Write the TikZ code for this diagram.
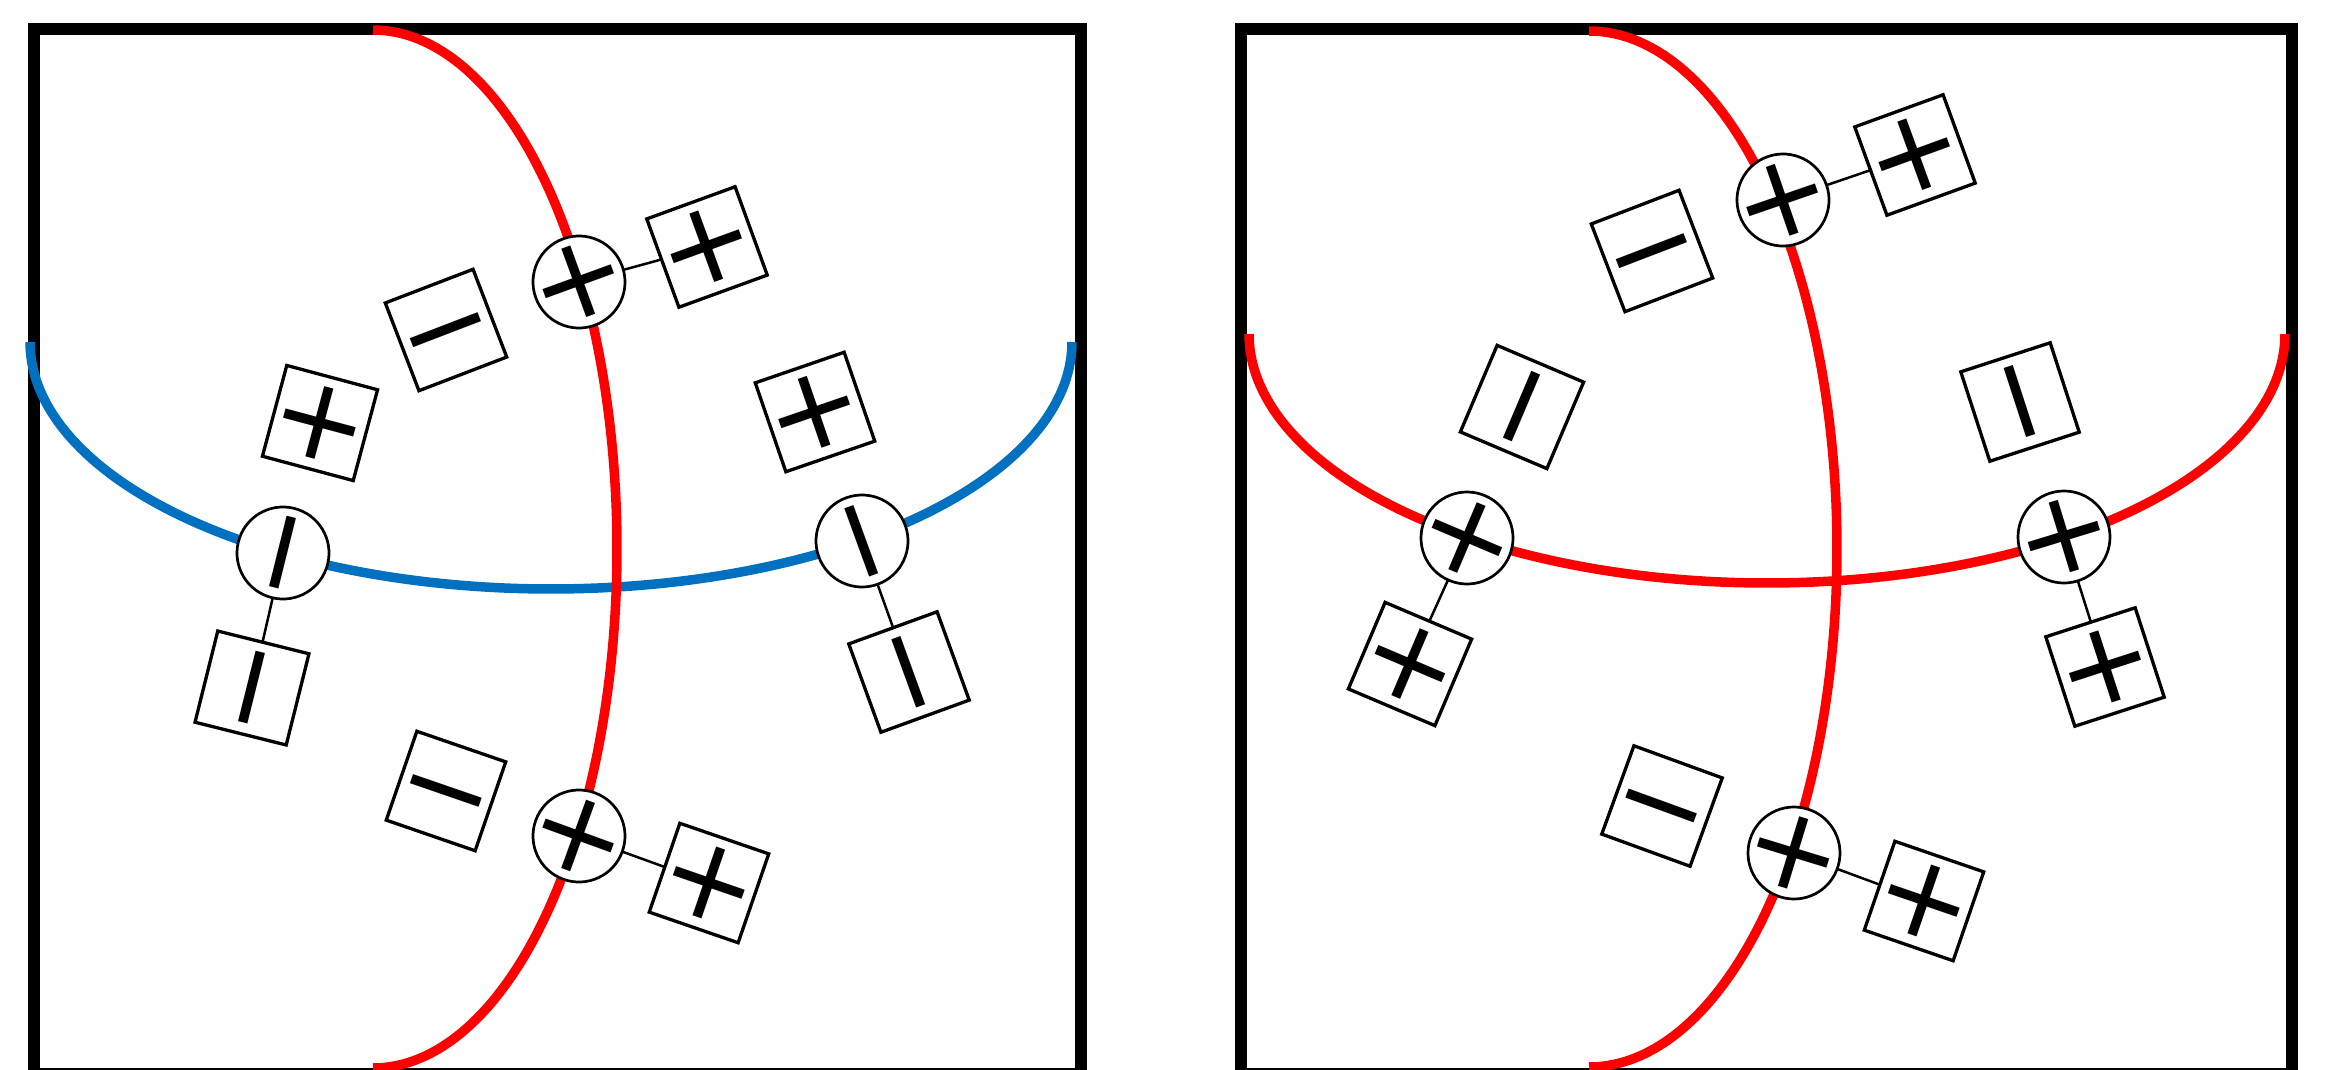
\documentclass[tikz,border=0pt]{standalone}
\usepackage{fontspec}
\usepackage{graphicx}
\newfontfamily\signfont{DejaVu Sans}
\definecolor{sigred}{RGB}{255,0,0}
\definecolor{sigblue}{RGB}{0,112,192}
\newcommand\sgc[1]{\makebox[0pt][c]{\smash{\raisebox{-0.5\height}{#1}}}}
\newcommand\sgplus{\sgc{+}}
\newcommand\sgminus{\sgc{\vphantom{+}−}}
\newcommand\sgbar{\rotatebox{90}{\sgc{\vphantom{+}−}}}
\begin{document}
\begin{tikzpicture}[x=0.1mm,y=-0.1mm,
  sgn/.style={font=\signfont\fontsize{33}{33}\selectfont, inner sep=0pt, outer sep=0pt},
  junc/.style={circle, draw=black, fill=white, line width=0.27mm, minimum size=9.2mm, sgn},
  sbox/.style={rectangle, draw=black, fill=white, line width=0.33mm, minimum size=9.4mm, sgn},
  link/.style={line width=0.25mm, black},
  frame/.style={line width=1.2mm, black, line join=miter},
  redc/.style={line width=0.95mm, sigred, line join=round},
  bluec/.style={line width=0.95mm, sigblue, line join=round}]
\useasboundingbox (0,0) rectangle (2338,1070);
% frames
\draw[frame] (34,29) rectangle (1081,1074);
\draw[frame] (1241,29) rectangle (2292,1074);
% left panel curves
\draw[bluec] plot[domain=180:0, samples=200] ({551+521*cos(\x)},{342+247*sin(\x)});
\draw[redc] plot[domain=-90:90, samples=200] ({373+244*cos(\x)},{549+519*sin(\x)});
% right panel curves
\draw[redc] plot[domain=180:0, samples=200] ({1767+518*cos(\x)},{334+249*sin(\x)});
\draw[redc] plot[domain=-90:90, samples=200] ({1589+248*cos(\x)},{549+518*sin(\x)});
% left panel nodes
\node[junc, rotate=20] (lcA) at (579,282) {\sgplus};
\node[sbox, rotate=20] (lbA) at (707,247) {\sgplus};
\node[sbox, rotate=21] (lm1) at (446,330) {\sgminus};
\node[sbox, rotate=-15] (lp1) at (320,423) {\sgplus};
\node[junc, rotate=76] (lcB) at (283,553) {\sgminus};
\node[sbox, rotate=-14] (lbB) at (252,688) {\sgbar};
\node[junc, rotate=110] (lcC) at (862,541) {\sgminus};
\node[sbox, rotate=20] (lbC) at (909,672) {\sgbar};
\node[sbox, rotate=19] (lp2) at (815,412) {\sgplus};
\node[sbox, rotate=-19] (lm2) at (446,791) {\sgminus};
\node[junc, rotate=-20] (lcD) at (579,836) {\sgplus};
\node[sbox, rotate=-19] (lbD) at (709,883) {\sgplus};
% right panel nodes
\node[junc, rotate=19] (rcA) at (1783,200) {\sgplus};
\node[sbox, rotate=20] (rbA) at (1915,155) {\sgplus};
\node[sbox, rotate=21] (rm1) at (1652,251) {\sgminus};
\node[sbox, rotate=-23] (rv1) at (1522,407) {\sgbar};
\node[junc, rotate=-23] (rcB) at (1467,538) {\sgplus};
\node[sbox, rotate=-23] (rbB) at (1410,664) {\sgplus};
\node[sbox, rotate=18] (rv2) at (2020,402) {\sgbar};
\node[junc, rotate=17] (rcC) at (2064,537) {\sgplus};
\node[sbox, rotate=18] (rbC) at (2105,667) {\sgplus};
\node[sbox, rotate=-20] (rm2) at (1662,806) {\sgminus};
\node[junc, rotate=-17] (rcD) at (1794,853) {\sgplus};
\node[sbox, rotate=-19] (rbD) at (1924,901) {\sgplus};
% connectors
\draw[link] (lcA) -- (lbA);
\draw[link] (lcB) -- (lbB);
\draw[link] (lcC) -- (lbC);
\draw[link] (lcD) -- (lbD);
\draw[link] (rcA) -- (rbA);
\draw[link] (rcB) -- (rbB);
\draw[link] (rcC) -- (rbC);
\draw[link] (rcD) -- (rbD);
\end{tikzpicture}
\end{document}
